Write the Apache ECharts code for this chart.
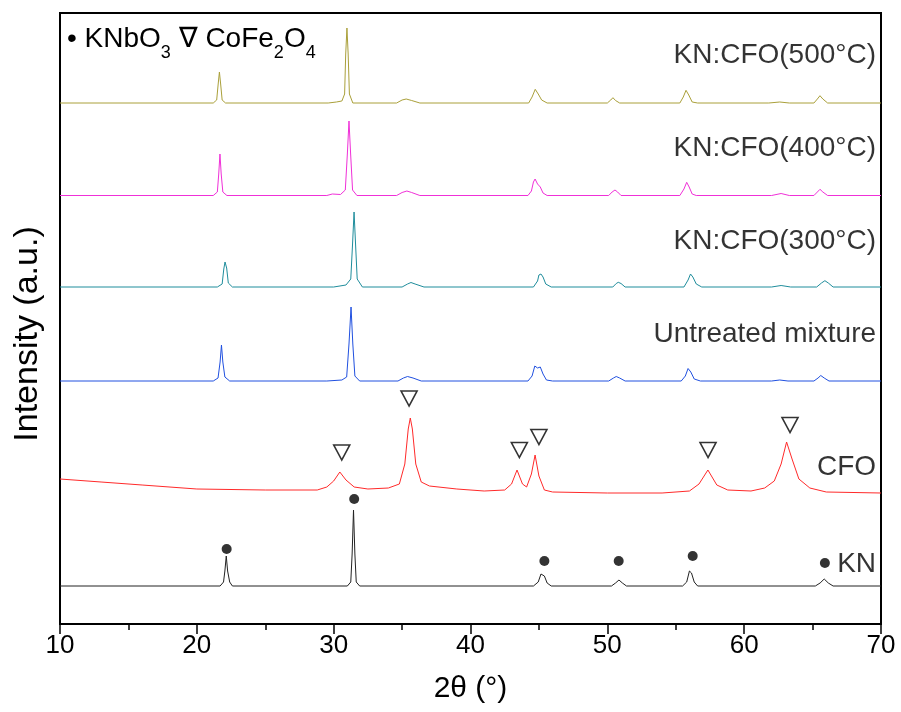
<!DOCTYPE html>
<html><head><meta charset="utf-8">
<script src="https://cdn.jsdelivr.net/npm/echarts@6/dist/echarts.min.js"></script>
<style>html,body{margin:0;padding:0;background:#fff}#c{width:901px;height:712px}</style>
</head><body><div id="c"></div>
<script>
// x: 2θ (°), y: intensity (a.u., stacked offsets)
const xTicks = [10, 20, 30, 40, 50, 60, 70];

const kn = [[10,38],[21.7,38],[21.95,42],[22.05,53],[22.15,68],[22.25,53],[22.4,42],[22.6,38],
 [31.0,38],[31.25,42],[31.35,70],[31.45,114],[31.55,70],[31.65,42],[31.9,38],
 [44.6,38],[44.95,42],[45.15,50],[45.25,52],[45.4,48],[45.6,41],[45.9,38],
 [50.3,38],[50.6,41],[50.85,44],[51.1,41],[51.4,38],
 [55.5,38],[55.8,42],[56.0,53],[56.15,51],[56.35,42],[56.6,38],
 [65.2,38],[65.55,41],[65.85,45],[66.15,41],[66.5,38],[70,38]];

const cfo = [[10,145],[13,142],[16,139],[20,135],[25,134],[28.8,134],[29.5,137],[30.0,143],[30.45,152],[30.9,144],[31.5,137],[32.5,135],
 [34,136],[34.8,140],[35.2,160],[35.45,195],[35.6,206],[35.75,195],[36.0,160],[36.4,142],[37,138],[39,135],[41,133],
 [42.5,134],[43.0,140],[43.4,154],[43.8,140],[44.1,137],[44.45,150],[44.72,169],[45.0,148],[45.4,134],[46,132],[50,131],[54,131],
 [56,133],[56.7,140],[57.35,154],[58.0,139],[58.8,134],[60.5,133],[61.5,136],[62.2,143],[62.7,160],[63.1,182],[63.5,165],[64.0,145],[64.8,136],[66,132],[70,131]];

const untreated = [[10,243],[21.2,243],[21.55,246],[21.7,262],[21.8,279],[21.9,262],[22.05,247],[22.4,243],[29.5,243],[30.6,244],
 [30.95,247],[31.12,280],[31.27,317],[31.4,280],[31.55,248],[31.9,243],[34.7,243],[35.1,246],[35.4,247.5],[35.8,246],[36.4,243],
 [44.2,243],[44.5,248],[44.7,258],[44.9,256],[45.1,257],[45.3,250],[45.55,244],[46,243],[50.1,243],[50.45,246],[50.65,247.5],[50.9,246],[51.3,243],
 [55.4,243],[55.7,248],[55.9,255.5],[56.1,252],[56.35,245],[56.8,243],[62.0,243],[62.6,244],[63.2,243],
 [65.1,243],[65.4,246],[65.6,248.5],[65.85,246],[66.2,243],[70,243]];

const t300 = [[10,337],[21.5,337],[21.85,340],[21.97,355],[22.06,362],[22.18,356],[22.3,341],[22.6,337],[30.0,337],[30.9,339],
 [31.25,345],[31.38,380],[31.49,412],[31.6,380],[31.72,345],[32.1,337],[35.0,337],[35.4,340],[35.65,341.5],[35.95,340],[36.6,337],
 [44.6,337],[44.9,343],[45.0,349],[45.15,350],[45.3,347],[45.5,340],[45.9,337],[50.4,337],[50.65,340.5],[50.8,341.7],[51.0,340.5],[51.3,337],
 [55.6,337],[55.9,344],[56.08,350],[56.25,347],[56.5,340],[56.9,337],[62.0,337],[62.7,338.5],[63.4,337],
 [65.3,337],[65.65,341],[65.9,343.3],[66.15,341],[66.5,337],[70,337]];

const t400 = [[10,428.5],[21.2,428.5],[21.5,432],[21.6,450],[21.69,470],[21.78,450],[21.9,432],[22.2,428.5],[29.5,428.5],[29.9,430],[30.5,429.5],
 [30.85,434],[31.0,470],[31.12,503],[31.24,470],[31.38,434],[31.7,428.5],[34.6,428.5],[35.0,431.5],[35.35,433],[35.7,431.5],[36.3,428.5],
 [44.2,428.5],[44.45,433],[44.6,442],[44.72,445],[44.9,440],[45.1,437],[45.3,431],[45.6,428.5],[50.1,428.5],[50.35,432],[50.56,434],[50.75,432],[51.0,428.5],
 [55.3,428.5],[55.6,435],[55.8,441.7],[55.98,437],[56.2,430],[56.5,428.5],[62.0,428.5],[62.7,430.5],[63.3,428.5],
 [65.1,428.5],[65.35,432],[65.54,434.7],[65.75,432],[66.1,428.5],[70,428.5]];

const t500 = [[10,521],[21.2,521],[21.45,524],[21.56,540],[21.65,552],[21.74,540],[21.85,524],[22.1,521],[29.6,521],[30.2,522],[30.6,523],
 [30.8,530],[30.88,570],[30.97,596],[31.06,570],[31.15,530],[31.4,521],[34.6,521],[35.0,524],[35.3,525],[35.7,523.5],[36.3,521],
 [44.25,521],[44.5,527],[44.73,534.7],[44.95,530],[45.2,524],[45.6,521],[50.0,521],[50.25,524],[50.41,526.3],[50.6,523.5],[50.9,521],
 [55.3,521],[55.55,527],[55.75,533.7],[55.95,529],[56.2,522],[56.6,521],[61.8,521],[62.6,522],[63.3,521],
 [65.1,521],[65.35,525],[65.54,528.3],[65.75,525],[66.1,521],[70,521]];

// phase markers
const knbo3Marks = [[22.18,75],[31.5,125],[45.4,63],[50.83,63],[56.24,68],[65.9,61]];
const cfoMarks = [[30.59,171.5],[35.51,225.5],[43.57,174],[45.0,187],[57.36,174],[63.35,199]];

// curve labels
const curveNames = ['KN:CFO(500°C)','KN:CFO(400°C)','KN:CFO(300°C)','Untreated mixture','CFO','KN'];
const curveLabelAt = [[69.64,569],[69.64,476],[69.64,383],[69.64,290],[69.64,157],[69.64,60]];

const legendParts = [['• KNbO',0],['3',1],[' ∇ CoFe',0],['2',1],['O',0],['4',1]];

const FONT = '"Liberation Sans", Arial, sans-serif';
const colors = {t500:'#aaa03a', t400:'#f030d8', t300:'#1f8d9c', un:'#2050e0', cfo:'#ff2a2a', kn:'#222222'};

const chart = echarts.init(document.getElementById('c'));

function line(data, color){
  return {type:'line', data, showSymbol:false, symbol:'none', smooth:false, lineStyle:{color, width:1}, silent:true, z:2};
}

// legend pieces measured
const cv = document.createElement('canvas').getContext('2d');
function tw(t,s){ cv.font = s+'px '+FONT; return cv.measureText(t).width; }
let lx = 0; const legendChildren = [];
legendParts.forEach(([t,sub])=>{
  const fs = sub ? 18 : 28;
  legendChildren.push({type:'text', x:lx, y: sub ? 14 : 0, style:{text:t, font: fs+'px '+FONT, fill:'#000', verticalAlign:'middle'}});
  lx += tw(t,fs);
});

chart.setOption({
  animation:false,
  backgroundColor:'#fff',
  grid:{left:60, right:20, top:13, bottom:88, show:true, borderColor:'#000', borderWidth:2, backgroundColor:'transparent'},
  xAxis:{type:'value', min:10, max:70, interval:10,
    axisLine:{show:true, onZero:false, lineStyle:{color:'#000', width:2}},
    axisTick:{show:true, inside:false, length:10, lineStyle:{color:'#000', width:1.5}},
    minorTick:{show:true, splitNumber:2, length:6, lineStyle:{color:'#000', width:1.5}},
    splitLine:{show:false},
    axisLabel:{fontSize:26, fontFamily:FONT, color:'#000', margin:9,
      formatter:v=> xTicks.includes(v) ? String(v) : ''},
    name:'2θ (°)', nameLocation:'middle', nameGap:50,
    nameTextStyle:{fontSize:30, fontFamily:FONT, color:'#000'}
  },
  yAxis:{type:'value', min:0, max:611,
    axisLine:{show:true, lineStyle:{color:'#000', width:2}},
    axisTick:{show:false}, axisLabel:{show:false}, splitLine:{show:false}
  },
  graphic:[
    {type:'text', x:28, y:334, rotation:Math.PI/2, style:{text:'Intensity (a.u.)', font:'34px '+FONT, fill:'#000', align:'center', verticalAlign:'middle'}},
    {type:'group', x:67, y:39, children:legendChildren}
  ],
  series:[
    line(kn, colors.kn),
    line(cfo, colors.cfo),
    line(untreated, colors.un),
    line(t300, colors.t300),
    line(t400, colors.t400),
    line(t500, colors.t500),
    {type:'scatter', data:knbo3Marks, symbol:'circle', symbolSize:10, itemStyle:{color:'#000'}, silent:true, z:3},
    {type:'scatter', data:cfoMarks, symbol:'triangle', symbolRotate:180, symbolSize:[16,15],
      itemStyle:{color:'rgba(255,255,255,0)', borderColor:'#000', borderWidth:1.6}, silent:true, z:3},
    {type:'scatter', data:curveLabelAt.map((p,i)=>({value:p, name:curveNames[i]})), symbolSize:0, silent:true, z:4,
      label:{show:true, position:'left', distance:0, formatter:p=>p.name, fontSize:28, fontFamily:FONT, color:'#000'}}
  ]
});
</script></body></html>
